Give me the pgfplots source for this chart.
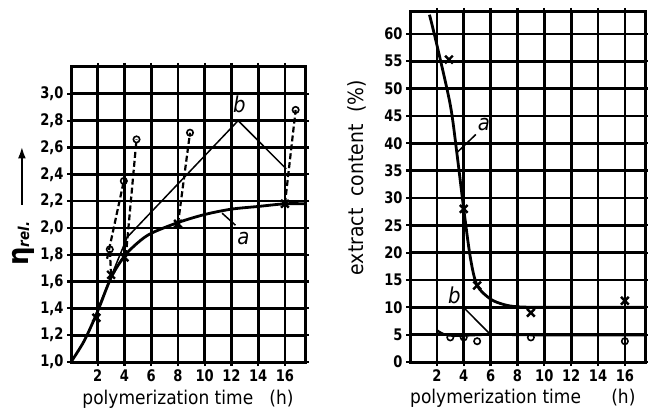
\documentclass[border=0pt]{standalone}
\usepackage{pgfplots}
\pgfplotsset{compat=1.18}
\usetikzlibrary{arrows.meta}
\usepackage{fontspec}
\setmainfont{DejaVu Sans}[FakeStretch=0.9]
\newfontfamily\tickfont{DejaVu Sans}[FakeStretch=0.82]

\pgfplotsset{
  oldchart/.style={
    scale only axis, xmin=0, xmax=17.5,
    xtick={2,4,...,16},
    axis line style={line width=3bp},
    tick align=outside, major tick length=4bp,
    tick style={line width=2.2bp, black},
    tick label style={font=\tickfont\fontsize{16}{16}\selectfont\bfseries},
    /pgf/number format/assume math mode=true,
    label style={font=\fontsize{19}{19}\selectfont},
    clip=false,
  },
  gridline/.style={line width=2.7bp, black, no markers, forget plot},
  curve a/.style={line width=2.8bp, black, smooth, no markers},
  curve b/.style={line width=1.5bp, black, no markers},
  cross/.style={only marks, mark=x, mark size=5.5pt, mark options={line width=2.4bp}, black},
  ring/.style={only marks, mark=o, mark size=3.2pt, mark options={line width=1.6bp, fill=white}, black},
  dash/.style={line width=2.2bp, black, dash pattern=on 6pt off 3pt, no markers},
}

\begin{document}
\begin{tikzpicture}[x=1bp,y=1bp]
\path[use as bounding box] (0,0) rectangle (648,415);

% left: relative viscosity
\begin{axis}[oldchart, at={(71bp,53bp)}, anchor=south west,
  width=234bp, height=295bp,
  ymin=1.0, ymax=3.2, ytick={1.0,1.2,...,3.01},
  yticklabel style={/pgf/number format/.cd, fixed, fixed zerofill, precision=1, use comma},
  xlabel={polymerization\ time\ \ \ (h)},
  ylabel={{\fontsize{29}{29}\selectfont\bfseries η}\raisebox{-0.1ex}{\fontsize{15}{15}\selectfont\bfseries\itshape rel.}\ \ \ \tikz[baseline=-0.6ex]\draw[line width=2.2bp,-{Latex[length=12pt,width=8pt]}] (0,0) -- (58bp,0);},
  xlabel style={at={(axis description cs:0.5,-0.125)}, anchor=center},
  ylabel style={at={(axis description cs:-0.205,0.53)}, anchor=center},
]
% grid
\pgfplotsinvokeforeach{2,4,...,16}{\addplot[gridline] coordinates {(#1,1.0) (#1,3.2)};}
\pgfplotsinvokeforeach{1.2,1.4,...,3.01}{\addplot[gridline] coordinates {(0,#1) (17.5,#1)};}
% data
\addplot[curve a] coordinates {(0,1.0) (1,1.16) (2,1.38) (3,1.63) (4,1.79) (5,1.89) (6,1.96) (8,2.04) (10,2.10) (12,2.14) (14,2.16) (16,2.18) (17.5,2.18)};
\addplot[curve b] coordinates {(2.1,1.42) (4.2,1.93) (12.5,2.80) (16.1,2.44)};
\addplot[dash] coordinates {(3.0,1.65) (2.9,1.84)};
\addplot[dash] coordinates {(2.7,1.77) (3.95,2.35)};
\addplot[dash] coordinates {(4.1,1.79) (4.9,2.66)};
\addplot[dash] coordinates {(8.0,2.03) (8.9,2.71)};
\addplot[dash] coordinates {(16.0,2.18) (16.8,2.88)};
\addplot[cross] coordinates {(1.9,1.33) (3,1.65) (4,1.78) (8,2.03) (16,2.18)};
\addplot[ring] coordinates {(2.9,1.84) (3.95,2.35) (4.9,2.66) (8.9,2.71) (16.8,2.88)};
\addplot[curve b] coordinates {(11.3,2.11) (12.3,2.02)};
\node[font=\fontsize{22}{22}\selectfont\itshape] at (axis cs:12.9,1.92) {a};
\node[font=\fontsize{22}{22}\selectfont\itshape] at (axis cs:12.6,2.92) {b};
\end{axis}

% right: extract content
\begin{axis}[oldchart, at={(410bp,53bp)}, anchor=south west,
  width=235bp, height=350bp,
  ymin=0, ymax=64, ytick={0,5,...,60},
  xlabel={polymerization\ time\hspace{1.6em}(h)},
  ylabel={\fontsize{21}{21}\selectfont extract\ \ content\ \ (\%)},
  xlabel style={at={(axis description cs:0.48,-0.103)}, anchor=center},
  ylabel style={at={(axis description cs:-0.226,0.527)}, anchor=center},
]
% grid
\pgfplotsinvokeforeach{2,4,...,16}{\addplot[gridline] coordinates {(#1,0) (#1,64)};}
\pgfplotsinvokeforeach{5,10,...,60}{\addplot[gridline] coordinates {(0,#1) (17.5,#1)};}
% data
\addplot[curve a] coordinates {(1.45,63.5) (2,58) (3,47) (3.5,38) (4,28) (4.5,19) (5,14) (6,11.5) (7,10.5) (8,10.1) (10,10) (17.5,10)};
\addplot[curve a, line width=2.3bp] coordinates {(2,5.8) (2.6,5.0) (3.5,4.8) (6,5.0) (10,4.9) (17.5,4.9)};
\addplot[cross] coordinates {(2.9,55.3) (4,28) (5,14) (9,9) (16,11.2)};
\addplot[ring] coordinates {(3,4.5) (4,4.5) (5,3.8) (9,4.5) (16,3.8)};
\addplot[curve b] coordinates {(3.5,38.3) (4.9,41.6)};
\addplot[curve b] coordinates {(3.9,10.2) (6,5)};
\node[font=\fontsize{22}{22}\selectfont\itshape] at (axis cs:5.5,43.5) {a};
\node[font=\fontsize{22}{22}\selectfont\itshape] at (axis cs:3.3,12.2) {b};
\end{axis}
\end{tikzpicture}
\end{document}
